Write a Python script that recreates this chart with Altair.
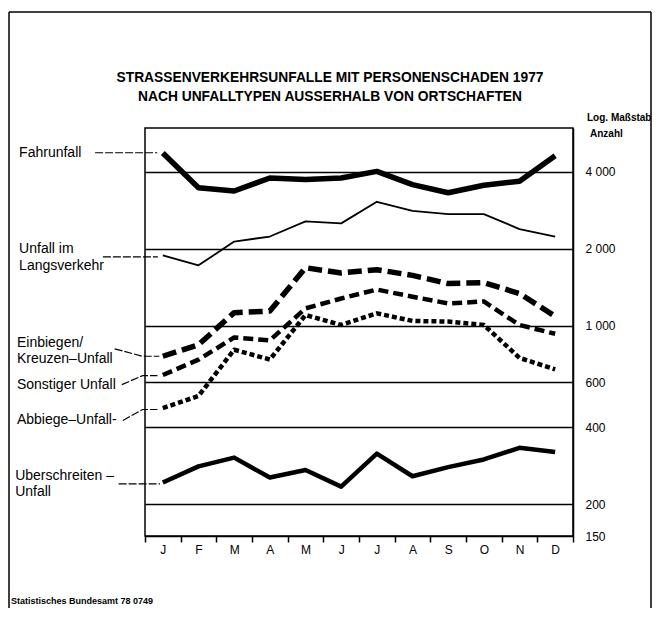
import altair as alt
import pandas as pd

# ---------------- data ----------------
months = ["J", "F", "M", "A", "M", "J", "J", "A", "S", "O", "N", "D"]
month_num = list(range(1, 13))

fahrunfall = [4730, 3460, 3360, 3780, 3730, 3780, 4010, 3560, 3310, 3540, 3670, 4620]
laengsverkehr = [1880, 1720, 2130, 2230, 2555, 2510, 3050, 2810, 2730, 2730, 2385, 2230]
einbiegen = [758, 841, 1123, 1139, 1683, 1606, 1654, 1571, 1459, 1472, 1334, 1087]
sonstiger = [640, 735, 898, 875, 1167, 1276, 1383, 1296, 1220, 1242, 1005, 928]
abbiege = [475, 530, 804, 736, 1099, 1005, 1116, 1042, 1036, 1005, 747, 673]
ueberschreiten = [243, 281, 304, 254, 272, 234, 315, 257, 279, 299, 332, 320]

y_ticks = [150, 200, 400, 600, 1000, 2000, 4000]

title_lines = ["STRASSENVERKEHRSUNFALLE MIT PERSONENSCHADEN 1977",
               "NACH UNFALLTYPEN AUSSERHALB VON ORTSCHAFTEN"]

# series label texts (left side), anchored in month/value units
label_text = ["Fahrunfall", "Unfall im", "Langsverkehr", "Einbiegen/", "Kreuzen\u2013Unfall",
              "Sonstiger Unfall", "Abbiege\u2013Unfall-", "Uberschreiten \u2013", "Unfall"]
label_x = [-3.03, -3.03, -3.03, -3.09, -3.09, -3.09, -3.09, -3.14, -3.14]
label_v = [4745, 1990, 1705, 854, 742, 587, 425, 257, 223]

# leader lines (id, x, value)
leader_id = [0, 0, 1, 1, 2, 2, 2, 3, 3, 3, 4, 4, 4, 5, 5]
leader_x = [-0.90, 0.84, -0.68, 0.86, -0.35, 0.43, 0.90, -0.15, 0.43, 0.85, -0.12, 0.43, 0.85, -0.24, 0.92]
leader_v = [4745, 4745, 1857, 1857, 810, 758, 758, 587, 636, 636, 425, 469, 469, 240, 240]

# ---------------- scales / axes ----------------
X_SCALE = alt.Scale(domain=[0.5, 12.5], nice=False, zero=False)
Y_SCALE = alt.Scale(type="log", domain=[150, 5930], nice=False)

month_js = "[" + ",".join("'" + m + "'" for m in months) + "]"
x_axis = alt.Axis(
    values=[i + 0.5 for i in range(13)] + month_num,
    labelExpr="datum.value % 1 == 0 ? " + month_js + "[datum.value - 1] : ''",
    tickOpacity={"condition": {"test": "datum.value % 1 != 0", "value": 1}, "value": 0},
    labelOverlap=False, labelFlush=False, grid=False, title=None,
    domainColor="black", domainWidth=1.5, tickColor="black", tickWidth=1.5, tickSize=6,
    labelFontSize=12, labelPadding=2, labelColor="black", labelFont="Liberation Sans",
)
y_axis = alt.Axis(
    orient="right", values=y_ticks, title=None,
    labelExpr="datum.value >= 1000 ? replace(format(datum.value, ','), ',', ' ') : format(datum.value, 'd')",
    grid=True, gridColor="black", gridWidth=1.3,
    gridOpacity={"condition": {"test": "datum.value < 160", "value": 0}, "value": 1},
    ticks=False, domainColor="black", domainWidth=1.5,
    labelPadding=12, labelFontSize=12, labelColor="black", labelFont="Liberation Sans",
    labelOverlap=False, labelFlush=False,
)


def X():
    return alt.X("m:Q", scale=X_SCALE, axis=x_axis, title=None)


def Y():
    return alt.Y("v:Q", scale=Y_SCALE, axis=y_axis, title=None)


series = [
    ("Fahrunfall", fahrunfall, dict(strokeWidth=5.5)),
    ("Langsverkehr", laengsverkehr, dict(strokeWidth=1.8)),
    ("Einbiegen", einbiegen, dict(strokeWidth=5.5, strokeDash=[14, 6])),
    ("Sonstiger", sonstiger, dict(strokeWidth=4.5, strokeDash=[10, 5])),
    ("Abbiege", abbiege, dict(strokeWidth=4.5, strokeDash=[5, 3])),
    ("Uberschreiten", ueberschreiten, dict(strokeWidth=4.5)),
]

layers = []
for name, vals, style in series:
    df = pd.DataFrame({"m": month_num, "v": vals})
    layers.append(
        alt.Chart(df).mark_line(color="black", strokeCap="butt", strokeJoin="round", **style)
        .encode(x=X(), y=Y())
    )

leader_df = pd.DataFrame({"id": leader_id, "m": leader_x, "v": leader_v,
                          "o": list(range(len(leader_id)))})
layers.append(
    alt.Chart(leader_df).mark_line(color="black", strokeWidth=1.2, strokeDash=[8, 2])
    .encode(x=X(), y=Y(), detail="id:N", order="o:Q")
)

label_df = pd.DataFrame({"t": label_text, "m": label_x, "v": label_v})
layers.append(
    alt.Chart(label_df).mark_text(align="left", baseline="middle", fontSize=14,
                                  font="Liberation Sans", color="black")
    .encode(x=X(), y=Y(), text="t:N")
)

one = pd.DataFrame({"a": [0]})


def txt(s, x, y, size, weight="normal", align="left"):
    return alt.Chart(one).mark_text(align=align, baseline="middle", fontSize=size,
                                    fontWeight=weight, font="Liberation Sans", color="black") \
        .encode(x=alt.value(x), y=alt.value(y), text=alt.value(s))


layers.append(txt(title_lines[0], 185, -50, 13.8, "bold", "center"))
layers.append(txt(title_lines[1], 185, -31, 13.8, "bold", "center"))
layers.append(txt("Log. Maßstab", 442, -10, 10, "bold"))
layers.append(txt("Anzahl", 445, 6, 10, "bold"))
layers.append(txt("Statistisches Bundesamt 78 0749", -134, 473, 9, "bold"))

# frame around the figure
frame_l = alt.Chart(one).mark_rule(color="black", strokeWidth=1.5).encode(
    x=alt.value(-136), y=alt.value(-116), y2=alt.value(480))
frame_t = alt.Chart(one).mark_rule(color="black", strokeWidth=1.5).encode(
    x=alt.value(-136), x2=alt.value(506), y=alt.value(-116))
frame_r = alt.Chart(one).mark_rule(color="black", strokeWidth=1.5).encode(
    x=alt.value(506), y=alt.value(-116), y2=alt.value(480))
layers += [frame_l, frame_t, frame_r]

chart = alt.layer(*layers).properties(
    width=428, height=408,
    autosize=alt.AutoSizeParams(type="none"),
    padding={"left": 137, "top": 120, "right": 79, "bottom": 80},
    background="white",
).configure_view(stroke="black", strokeWidth=1.5)

chart.save("out.html", embed_options={"renderer": "svg", "actions": False})
